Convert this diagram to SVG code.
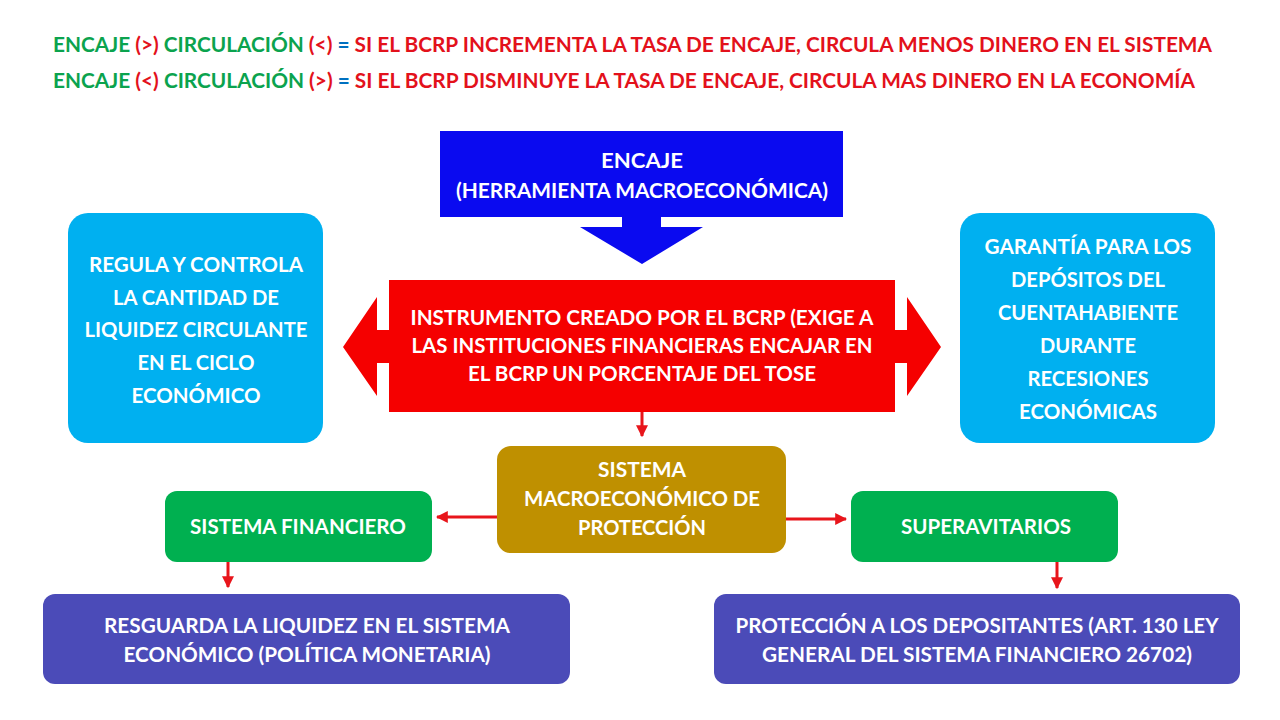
<svg xmlns="http://www.w3.org/2000/svg" width="1280" height="720" viewBox="0 0 1280 720">
<defs>
<style>
text{font-family:Lato,"Liberation Sans",sans-serif;font-weight:bold;font-size:20px;text-anchor:middle;fill:#fff}
.top{text-anchor:start;font-size:20px}
.g{fill:#0BA34E}.r{fill:#E3111B}.b{fill:#0070C0}
.con{stroke:#E8151B;stroke-width:3;fill:none}
</style>
<marker id="ah" viewBox="0 0 10 10" refX="9" refY="5" markerWidth="4" markerHeight="4" orient="auto" markerUnits="strokeWidth">
<path d="M0,0 L10,5 L0,10 Z" fill="#E8151B"/>
</marker>
</defs>
<rect width="1280" height="720" fill="#fff"/>

<g id="legend">
<text class="top" x="53" y="52" textLength="1159" lengthAdjust="spacingAndGlyphs"><tspan class="g">ENCAJE </tspan><tspan class="r">(&gt;)</tspan><tspan class="g"> CIRCULACIÓN </tspan><tspan class="r">(&lt;)</tspan><tspan class="b"> = </tspan><tspan class="r">SI EL BCRP INCREMENTA LA TASA DE ENCAJE, CIRCULA MENOS DINERO EN EL SISTEMA</tspan></text>
<text class="top" x="53" y="88" textLength="1142" lengthAdjust="spacingAndGlyphs"><tspan class="g">ENCAJE </tspan><tspan class="r">(&lt;)</tspan><tspan class="g"> CIRCULACIÓN </tspan><tspan class="r">(&gt;)</tspan><tspan class="b"> = </tspan><tspan class="r">SI EL BCRP DISMINUYE LA TASA DE ENCAJE, CIRCULA MAS DINERO EN LA ECONOMÍA</tspan></text>
</g>

<g id="encaje">
<rect x="440" y="131" width="403" height="86" fill="#0A0AF0"/>
<polygon points="622,217 661,217 661,227 703,227 642,264 580,227 622,227" fill="#0A0AF0"/>
<text x="642" y="168" textLength="82" lengthAdjust="spacingAndGlyphs">ENCAJE</text>
<text x="642" y="198" textLength="372" lengthAdjust="spacingAndGlyphs">(HERRAMIENTA MACROECONÓMICA)</text>
</g>

<g id="instrumento">
<polygon points="343,347 377,297 377,330 389,330 389,280 895,280 895,330 907,330 907,297 941,347 907,396 907,363 895,363 895,412 389,412 389,363 377,363 377,396" fill="#F50000"/>
<text x="642" y="325" textLength="463" lengthAdjust="spacingAndGlyphs">INSTRUMENTO CREADO POR EL BCRP (EXIGE A</text>
<text x="642" y="353" textLength="461" lengthAdjust="spacingAndGlyphs">LAS INSTITUCIONES FINANCIERAS ENCAJAR EN</text>
<text x="642" y="381" textLength="348" lengthAdjust="spacingAndGlyphs">EL BCRP UN PORCENTAJE DEL TOSE</text>
</g>

<g id="regula">
<rect x="68" y="213" width="255" height="230" rx="20" fill="#00B0F0"/>
<text x="196" y="272" textLength="214" lengthAdjust="spacingAndGlyphs">REGULA Y CONTROLA</text>
<text x="196" y="305" textLength="166" lengthAdjust="spacingAndGlyphs">LA CANTIDAD DE</text>
<text x="196" y="337" textLength="223" lengthAdjust="spacingAndGlyphs">LIQUIDEZ CIRCULANTE</text>
<text x="196" y="370" textLength="117" lengthAdjust="spacingAndGlyphs">EN EL CICLO</text>
<text x="196" y="403" textLength="129" lengthAdjust="spacingAndGlyphs">ECONÓMICO</text>
</g>

<g id="garantia">
<rect x="960" y="213" width="255" height="230" rx="20" fill="#00B0F0"/>
<text x="1088" y="254" textLength="207" lengthAdjust="spacingAndGlyphs">GARANTÍA PARA LOS</text>
<text x="1088" y="287" textLength="154" lengthAdjust="spacingAndGlyphs">DEPÓSITOS DEL</text>
<text x="1088" y="320" textLength="180" lengthAdjust="spacingAndGlyphs">CUENTAHABIENTE</text>
<text x="1088" y="353" textLength="96" lengthAdjust="spacingAndGlyphs">DURANTE</text>
<text x="1088" y="386" textLength="121" lengthAdjust="spacingAndGlyphs">RECESIONES</text>
<text x="1088" y="419" textLength="138" lengthAdjust="spacingAndGlyphs">ECONÓMICAS</text>
</g>

<g id="sistema-macro">
<rect x="497" y="446" width="289" height="107" rx="14" fill="#BF9000"/>
<text x="642" y="477" textLength="88" lengthAdjust="spacingAndGlyphs">SISTEMA</text>
<text x="642" y="506" textLength="236" lengthAdjust="spacingAndGlyphs">MACROECONÓMICO DE</text>
<text x="642" y="535" textLength="128" lengthAdjust="spacingAndGlyphs">PROTECCIÓN</text>
</g>

<g id="sistema-financiero">
<rect x="165" y="491" width="267" height="71" rx="12" fill="#00B050"/>
<text x="298" y="534" textLength="216" lengthAdjust="spacingAndGlyphs">SISTEMA FINANCIERO</text>
</g>

<g id="superavitarios">
<rect x="851" y="491" width="267" height="71" rx="12" fill="#00B050"/>
<text x="986" y="534" textLength="170" lengthAdjust="spacingAndGlyphs">SUPERAVITARIOS</text>
</g>

<g id="resguarda">
<rect x="43" y="594" width="527" height="90" rx="12" fill="#4B4BB8"/>
<text x="307" y="633" textLength="406" lengthAdjust="spacingAndGlyphs">RESGUARDA LA LIQUIDEZ EN EL SISTEMA</text>
<text x="307" y="662" textLength="367" lengthAdjust="spacingAndGlyphs">ECONÓMICO (POLÍTICA MONETARIA)</text>
</g>

<g id="proteccion">
<rect x="714" y="594" width="526" height="90" rx="12" fill="#4B4BB8"/>
<text x="977" y="633" textLength="483" lengthAdjust="spacingAndGlyphs">PROTECCIÓN A LOS DEPOSITANTES (ART. 130 LEY</text>
<text x="977" y="662" textLength="430" lengthAdjust="spacingAndGlyphs">GENERAL DEL SISTEMA FINANCIERO 26702)</text>
</g>

<g id="connectors">
<line class="con" x1="642" y1="412" x2="642" y2="436" marker-end="url(#ah)"/>
<line class="con" x1="497" y1="517" x2="437" y2="517" marker-end="url(#ah)"/>
<line class="con" x1="786" y1="519" x2="846" y2="519" marker-end="url(#ah)"/>
<line class="con" x1="228" y1="562" x2="228" y2="587" marker-end="url(#ah)"/>
<line class="con" x1="1057" y1="562" x2="1057" y2="588" marker-end="url(#ah)"/>
</g>
</svg>
